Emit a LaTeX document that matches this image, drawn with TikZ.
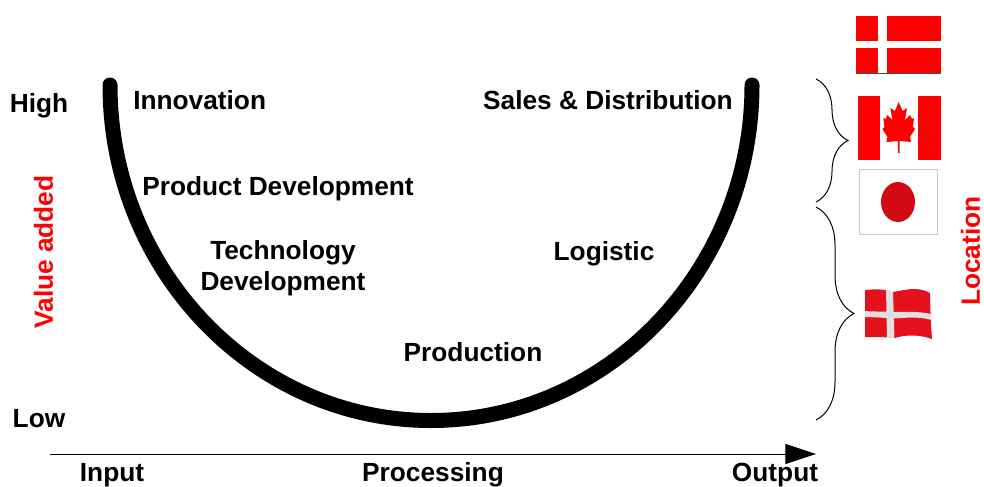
\documentclass[tikz,border=0pt]{standalone}
\usepackage{fontspec}
\setmainfont{Liberation Sans}
\usetikzlibrary{positioning}
\usetikzlibrary{arrows.meta}
\usetikzlibrary{decorations.pathreplacing}
\definecolor{flag_red}{HTML}{FF0000}
\definecolor{sun_red}{HTML}{D20A16}
\definecolor{wave_red}{HTML}{E4101C}
\tikzset{
        textnode/.style={align=center,inner sep=0pt,font=\fontsize{19.7pt}{23pt}\bfseries,text=black},
        % Axis words in red
        node_axis/.style={textnode, text=flag_red, rotate=90},
        % Thick U curve
        curve_value/.style={line width=11.25pt, line cap=round},
        % Braces beside the flags
        brace_group/.style={draw, line width=0.75pt, decoration={brace,mirror,aspect=0.5}, decorate},
        % Flag parts
        flag_part/.style={fill=flag_red, draw=none}
}
\begin{document}
\begin{tikzpicture}[x=0.75pt,y=0.75pt]
    \useasboundingbox (0,0) rectangle (984,-486);
    % U curve
    \coordinate (u_left) at (110,-85);
    \coordinate (u_bottom) at (431,-420.5);
    \coordinate (u_right) at (752,-85);
    \draw[curve_value] (u_left) .. controls (110,-270) and (254,-420.5) .. (u_bottom)
        .. controls (608,-420.5) and (752,-270) .. (u_right);
    % Process axis
    \coordinate (axis_start) at (50,-454);
    \coordinate (axis_end) at (816,-454);
    \draw[-{Triangle[length=23pt,width=15pt]}, line width=0.75pt] (axis_start) -- (axis_end);
    % Labels on the curve
    \node[textnode, anchor=west] (innovation) at (133,-100) {Innovation};
    \node[textnode, anchor=east] (sales) at (733,-100) {Sales \& Distribution};
    \node[textnode, anchor=west] (product) at (142,-189) {Product Development};
    \node[textnode] (technology) at (283,-268) {Technology\\Development};
    \node[textnode] (logistic) at (604,-254) {Logistic};
    \node[textnode] (production) at (473,-352) {Production};
    % Left and bottom labels
    \node[textnode] (high) at (39,-106) {High};
    \node[textnode] (low) at (39,-419) {Low};
    \node[node_axis] (value) at (43.5,-252) {Value added};
    \node[textnode] (input) at (112,-475) {Input};
    \node[textnode] (processing) at (433,-475) {Processing};
    \node[textnode] (output) at (775,-475) {Output};
    \node[node_axis] (location) at (970.5,-251) {Location};
    % Braces
    \coordinate (brace1_top) at (816,-79);
    \coordinate (brace1_bottom) at (816,-202);
    \coordinate (brace2_top) at (816,-207);
    \coordinate (brace2_bottom) at (816,-420);
    \draw[brace_group, decoration={amplitude=24pt}] (brace1_bottom) -- (brace1_top);
    \draw[brace_group, decoration={amplitude=28.5pt}] (brace2_bottom) -- (brace2_top);
    % Flat flag, top
    \fill[flag_part] (856,-16) rectangle (941,-74);
    \fill[white] (878,-16) rectangle (887,-73);
    \fill[white] (856,-41) rectangle (941,-48);
    \draw[black!70, line width=0.5pt] (856,-73.6) -- (941,-73.6);
    % Leaf flag
    \fill[white] (880,-96) rectangle (918,-160);
    \fill[flag_part] (858,-96) rectangle (880,-160);
    \fill[flag_part] (918,-96) rectangle (941,-160);
    \fill[flag_part] (898.7,-102) -- (902.5,-111) -- (907,-108) -- (905,-120) -- (910,-115) -- (912,-119)
        -- (914,-118) -- (913,-127) -- (915,-129) -- (910,-137) -- (911,-142) -- (899.5,-141) -- (899.5,-153)
        -- (897.9,-153) -- (897.9,-141) -- (886.4,-142) -- (887.4,-137) -- (882.4,-129) -- (884.4,-127)
        -- (883.4,-118) -- (885.4,-119) -- (887.4,-115) -- (892.4,-120) -- (890.4,-108) -- (894.9,-111) -- cycle;
    % Sun flag
    \draw[fill=white, draw=black!22, line width=0.75pt] (859.5,-169.5) rectangle (937.5,-234.5);
    \fill[sun_red] (898,-202) ellipse [x radius=12.75pt, y radius=15pt];
    % Waving flag
    \fill[wave_red] (865,-290) .. controls (875,-289) and (885,-289) .. (893,-292)
        .. controls (905,-290) and (918,-286) .. (930,-293)
        .. controls (930,-305) and (931,-325) .. (932,-339)
        .. controls (920,-335) and (908,-334) .. (895,-338)
        .. controls (885,-337) and (875,-337) .. (865,-337) -- cycle;
    \fill[black!12] (886,-289.5) -- (893,-291.5) -- (894.5,-338) -- (887,-337.5) -- cycle;
    \fill[black!12] (864.5,-311) .. controls (875,-312) and (885,-311) .. (893,-312)
        .. controls (905,-312) and (918,-311) .. (931,-314)
        -- (931.5,-320) .. controls (918,-316) and (905,-318) .. (893,-318.5)
        .. controls (885,-318) and (875,-317) .. (864.5,-317) -- cycle;
\end{tikzpicture}
\end{document}
